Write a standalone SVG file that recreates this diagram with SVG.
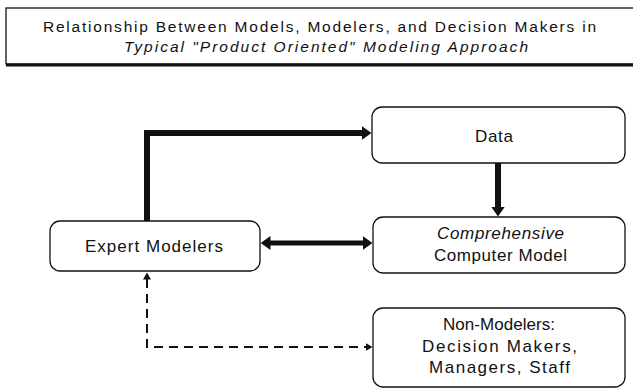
<svg xmlns="http://www.w3.org/2000/svg" width="633" height="388" viewBox="0 0 633 388">
<style>
  .box { fill: #fff; stroke: #111; stroke-width: 1.3; }
  .t { font-family: "Liberation Sans", Arial, sans-serif; fill: #111; text-anchor: middle; }
  .lbl { font-size: 17px; }
  .ttl { font-size: 15.5px; }
  .it { font-style: italic; }
  .thick { fill: none; stroke: #111; stroke-width: 6; stroke-linejoin: miter; }
  .mid { fill: none; stroke: #111; stroke-width: 5; }
  .dash { fill: none; stroke: #111; stroke-width: 2; stroke-dasharray: 9 6; }
</style>
<defs>
  <marker id="head" markerUnits="userSpaceOnUse" viewBox="0 0 10 14" markerWidth="10" markerHeight="14" refX="0.5" refY="7" orient="auto-start-reverse">
    <path d="M0,0 L10,7 L0,14 Z" fill="#111"/>
  </marker>
  <marker id="headS" markerUnits="userSpaceOnUse" viewBox="0 0 7 8" markerWidth="7" markerHeight="8" refX="0.5" refY="4" orient="auto-start-reverse">
    <path d="M0,0 L7,4 L0,8 Z" fill="#111"/>
  </marker>
</defs>
<rect width="633" height="388" fill="#fff"/>

<g id="title">
  <rect x="6" y="8" width="640" height="56" fill="#fff" stroke="#111" stroke-width="1.3"/>
  <line x1="6" y1="65" x2="633" y2="65" stroke="#111" stroke-width="3"/>
  <text class="t ttl" x="319.5" y="32" textLength="553" lengthAdjust="spacing">Relationship Between Models, Modelers, and Decision Makers in</text>
  <text class="t ttl it" x="326" y="52" textLength="404" lengthAdjust="spacing">Typical "Product Oriented" Modeling Approach</text>
</g>

<g id="connectors">
  <path class="thick" d="M147,221 V133 H362" marker-end="url(#head)"/>
  <path class="thick" d="M498,163 V207" marker-end="url(#head)"/>
  <path class="mid" d="M270,243 H363" marker-start="url(#head)" marker-end="url(#head)"/>
  <path class="dash" d="M147,279 V347 H366" marker-start="url(#headS)" marker-end="url(#headS)"/>
</g>

<g id="data">
  <rect class="box" x="372" y="107" width="253" height="56" rx="10"/>
  <text class="t lbl" x="494" y="142" textLength="38" lengthAdjust="spacing">Data</text>
</g>

<g id="model">
  <rect class="box" x="373" y="217" width="252" height="56" rx="10"/>
  <text class="t lbl it" x="500.5" y="239" textLength="127" lengthAdjust="spacing">Comprehensive</text>
  <text class="t lbl" x="500.5" y="261" textLength="133" lengthAdjust="spacing">Computer Model</text>
</g>

<g id="expert">
  <rect class="box" x="50" y="221" width="210" height="50" rx="10"/>
  <text class="t lbl" x="154" y="252" textLength="138" lengthAdjust="spacing">Expert Modelers</text>
</g>

<g id="nonmodelers">
  <rect class="box" x="373" y="308" width="252" height="79" rx="10"/>
  <text class="t lbl" x="499" y="330" textLength="112" lengthAdjust="spacing">Non-Modelers:</text>
  <text class="t lbl" x="499.5" y="352" textLength="155" lengthAdjust="spacing">Decision Makers,</text>
  <text class="t lbl" x="499.5" y="373" textLength="141" lengthAdjust="spacing">Managers, Staff</text>
</g>
</svg>
